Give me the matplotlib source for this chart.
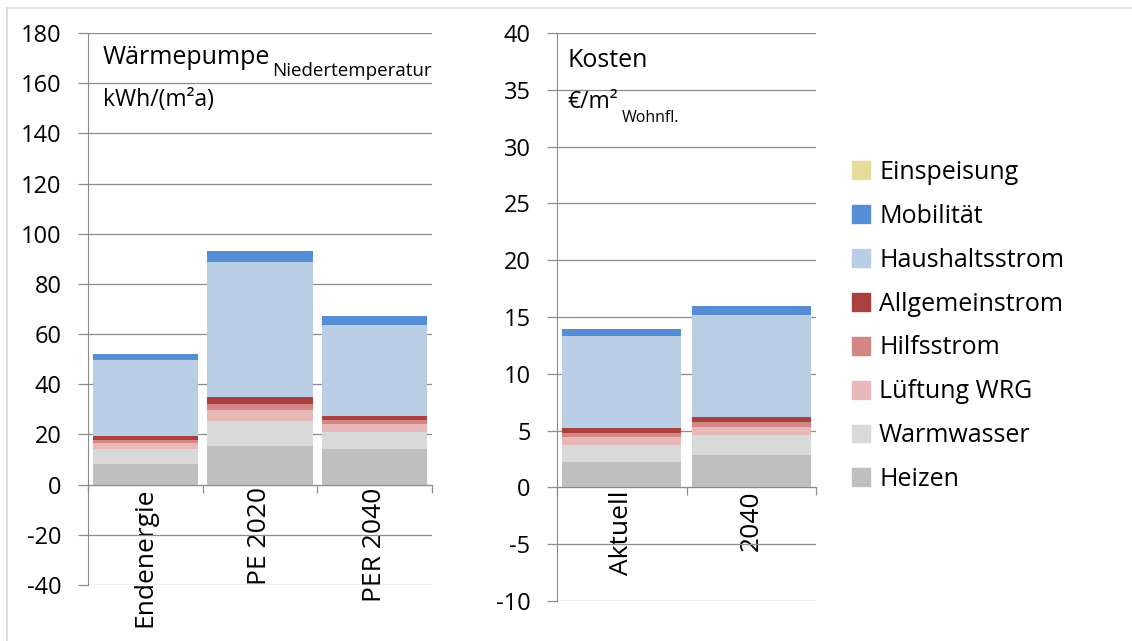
import matplotlib
matplotlib.use('Agg')
import matplotlib.pyplot as plt
import matplotlib.patches as patches
from matplotlib.lines import Line2D
import numpy as np

plt.rcParams['font.family'] = ['Open Sans', 'DejaVu Sans']
plt.rcParams['axes.unicode_minus'] = False

# stack order, bottom to top
series = ['Heizen', 'Warmwasser', 'Lüftung WRG', 'Hilfsstrom',
          'Allgemeinstrom', 'Haushaltsstrom', 'Mobilität', 'Einspeisung']
colors = ['#bfbfbf', '#d9d9d9', '#e6b9b8', '#d38784',
          '#a9403d', '#b9cde5', '#558ed5', '#e6dc9a']

# energy, kWh/(m²a)
energy_cats = ['Endenergie', 'PE 2020', 'PER 2040']
energy_heizen = [8.4, 15.3, 14.3]
energy_warmwasser = [5.8, 9.9, 6.7]
energy_lueftung = [2.4, 4.4, 3.0]
energy_hilfsstrom = [1.3, 2.7, 1.8]
energy_allgemein = [1.6, 2.8, 1.7]
energy_haushalt = [30.0, 53.8, 36.0]
energy_mobilitaet = [2.4, 4.4, 3.9]
energy_einspeisung = [0, 0, 0]

# costs, €/m² living area
cost_cats = ['Aktuell', '2040']
cost_heizen = [2.26, 2.85]
cost_warmwasser = [1.47, 1.73]
cost_lueftung = [0.71, 0.74]
cost_hilfsstrom = [0.38, 0.44]
cost_allgemein = [0.41, 0.44]
cost_haushalt = [8.10, 8.98]
cost_mobilitaet = [0.61, 0.82]
cost_einspeisung = [0, 0]

energy = [energy_heizen, energy_warmwasser, energy_lueftung, energy_hilfsstrom,
          energy_allgemein, energy_haushalt, energy_mobilitaet, energy_einspeisung]
cost = [cost_heizen, cost_warmwasser, cost_lueftung, cost_hilfsstrom,
        cost_allgemein, cost_haushalt, cost_mobilitaet, cost_einspeisung]

GRID = '#8c8c8c'


def stacked_panel(ax, cats, stack, ymin, ymax, ystep):
    x = np.arange(len(cats))
    bottom = np.zeros(len(cats))
    for vals, c, name in zip(stack, colors, series):
        vals = np.array(vals, dtype=float)
        ax.bar(x, vals, bottom=bottom, width=0.92, color=c, label=name,
               linewidth=0)
        bottom += vals
    ax.set_xlim(-0.5, len(cats) - 0.5)
    ax.set_ylim(ymin, ymax)
    ax.set_yticks(np.arange(ymin, ymax + ystep / 2, ystep))
    ax.yaxis.grid(True, color=GRID, linewidth=0.9)
    ax.set_axisbelow(True)
    for s in ['top', 'right']:
        ax.spines[s].set_visible(False)
    ax.spines['left'].set_color(GRID)
    ax.spines['bottom'].set_color(GRID)
    ax.spines['bottom'].set_position(('data', 0))
    # category boundaries as major ticks, names on minor ticks
    ax.set_xticks(np.arange(-0.5, len(cats), 1.0))
    ax.set_xticklabels([])
    ax.set_xticks(x, minor=True)
    ax.set_xticklabels(cats, minor=True, rotation=90, va='top', fontsize=19)
    ax.tick_params(axis='x', which='major', direction='out', length=6,
                   color=GRID, width=0.9)
    ax.tick_params(axis='x', which='minor', length=0, pad=2)
    ax.tick_params(axis='y', direction='out', length=7, color=GRID, width=0.9,
                   labelsize=17, pad=12)


fig = plt.figure(figsize=(11.32, 6.41), dpi=100)
ax1 = fig.add_axes([88 / 1132, 1 - 585 / 641, 344 / 1132, 552 / 641])
ax2 = fig.add_axes([557 / 1132, 1 - 601 / 641, 259 / 1132, 568 / 641])

stacked_panel(ax1, energy_cats, energy, -40, 180, 20)
stacked_panel(ax2, cost_cats, cost, -10, 40, 5)

# panel headings
t1 = fig.text(103 / 1132, 1 - 64 / 641, 'Wärmepumpe', fontsize=18, va='baseline')
ax1.annotate('Niedertemperatur', xy=(1, 0), xycoords=t1, xytext=(1, -4.5),
             textcoords='offset points', fontsize=13.5, va='baseline', ha='left')
fig.text(103 / 1132, 1 - 106 / 641, 'kWh/(m²a)', fontsize=16.5, va='baseline')

fig.text(567 / 1132, 1 - 67 / 641, 'Kosten', fontsize=18, va='baseline')
t2 = fig.text(567 / 1132, 1 - 108 / 641, '€/m²', fontsize=16.5, va='baseline')
ax2.annotate('Wohnfl.', xy=(1, 0), xycoords=t2, xytext=(3, -6),
             textcoords='offset points', fontsize=11.5, va='baseline', ha='left')

handles = [patches.Patch(color=c, label=n) for n, c in zip(series, colors)][::-1]
fig.legend(handles=handles, loc='upper left', bbox_to_anchor=(842 / 1132, 1 - 150 / 641),
           frameon=False, fontsize=18, handlelength=0.72, handleheight=0.72,
           handletextpad=0.36, labelspacing=0.755, borderaxespad=0)

# light frame round the chart area
fig.add_artist(Line2D([7 / 1132, 7 / 1132], [0, 1 - 8 / 641], color='#d9d9d9',
                      linewidth=1.2, transform=fig.transFigure))
fig.add_artist(Line2D([7 / 1132, 1], [1 - 8 / 641, 1 - 8 / 641], color='#d9d9d9',
                      linewidth=1.2, transform=fig.transFigure))

fig.savefig('out.png', dpi=100)
